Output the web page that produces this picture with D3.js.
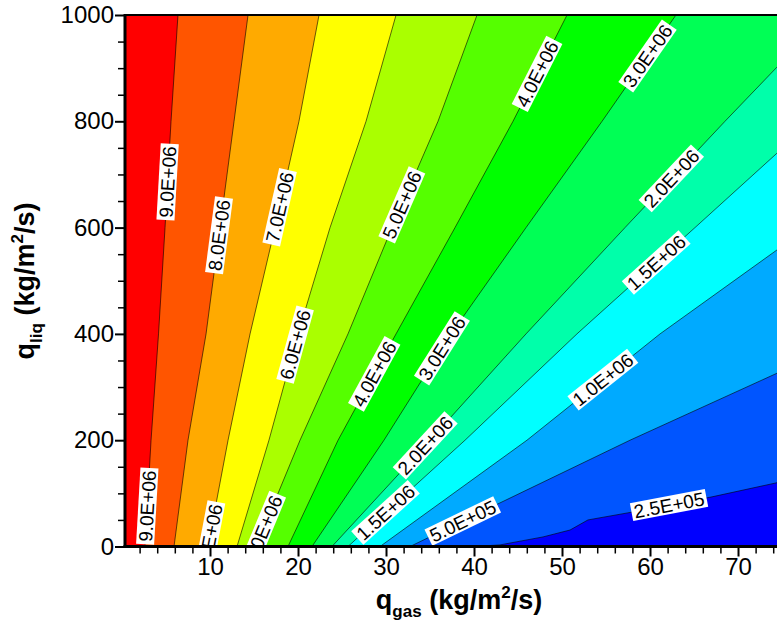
<!DOCTYPE html>
<html>
<head>
<meta charset="utf-8">
<script src="https://cdn.jsdelivr.net/npm/d3@7"></script>
<style>
  body { margin: 0; background: #fff; }
  svg { display: block; }
  text { font-family: "Liberation Sans", Arial, Helvetica, sans-serif; }
</style>
</head>
<body>
<svg id="chart" width="777" height="624"></svg>
<script>
// Contour levels of the field, highest first
const levels = [9.0e6, 8.0e6, 7.0e6, 6.0e6, 5.0e6, 4.0e6, 3.0e6, 2.0e6, 1.5e6, 1.0e6, 5.0e5, 2.5e5];

// Fill colours: band above the top level first, band below the lowest level last
const bandColors = ["#ff0000", "#ff5500", "#ffaa00", "#ffff00", "#aaff00", "#55ff00", "#00ff00",
                    "#00ff55", "#00ffaa", "#00ffff", "#00aaff", "#0055ff", "#0000ff"];

// Iso-lines as [q_gas, q_liq] points, from the bottom edge upwards
const iso9e6  = [[2.61, 0], [3.30, 200], [4.15, 400], [4.89, 600], [5.57, 800], [6.36, 1000]];
const iso8e6  = [[5.91, 0], [7.50, 200], [9.55, 400], [11.14, 600], [12.73, 800], [14.32, 1000]];
const iso7e6  = [[9.77, 0], [12.05, 200], [14.55, 400], [17.39, 600], [20.11, 800], [22.39, 1000]];
const iso6e6  = [[13.07, 0], [16.70, 200], [20.00, 400], [23.64, 600], [27.73, 800], [31.14, 1000]];
const iso5e6  = [[15.23, 0], [20.23, 200], [25.68, 400], [30.68, 600], [35.91, 800], [40.34, 1000]];
const iso4e6  = [[18.86, 0], [24.55, 200], [31.14, 400], [37.84, 600], [44.43, 800], [50.57, 1000]];
const iso3e6  = [[21.59, 0], [29.77, 200], [37.39, 400], [45.91, 600], [54.55, 800], [62.95, 1000]];
const iso2e6  = [[23.86, 0], [35.00, 200], [45.91, 400], [57.16, 600], [68.52, 800], [74.43, 902]];
const iso15e5 = [[25.68, 0], [38.98, 200], [51.70, 400], [65.11, 600], [74.43, 740]];
const iso1e6  = [[29.32, 0], [46.02, 200], [61.14, 400], [74.43, 558]];
const iso5e5  = [[32.73, 0], [42.95, 82], [57.73, 200], [74.43, 326]];
const iso25e4 = [[40.10, 0], [42.95, 3], [47.84, 18], [50.91, 31], [52.95, 50], [58.07, 65], [66.93, 93], [74.43, 120]];
const isoLines = [iso9e6, iso8e6, iso7e6, iso6e6, iso5e6, iso4e6, iso3e6, iso2e6, iso15e5, iso1e6, iso5e5, iso25e4];

// Inline contour labels: level, and approximate anchor [q_gas, q_liq]
const labelLevels = [9.0e6, 9.0e6, 8.0e6, 7.0e6, 7.0e6, 6.0e6, 5.0e6, 5.0e6, 4.0e6, 4.0e6,
                     3.0e6, 3.0e6, 2.0e6, 2.0e6, 1.5e6, 1.5e6, 1.0e6, 5.0e5, 2.5e5];
const labelAnchors = [[5.11, 686], [2.84, 76], [10.8, 586], [17.7, 639], [9.77, 14], [19.43, 381],
                      [31.36, 646], [16.2, 31], [46.93, 891], [28.52, 326], [59.55, 925], [36.25, 374],
                      [62.27, 695], [34.66, 187], [60.45, 539], [30.34, 57], [54.5, 317], [38.9, 42], [62.16, 78]];

// Axis ticks
const xMajorTicks = [10, 20, 30, 40, 50, 60, 70];
const xMinorTicks = [2, 4, 6, 8, 12, 14, 16, 18, 22, 24, 26, 28, 32, 34, 36, 38, 42, 44, 46, 48,
                     52, 54, 56, 58, 62, 64, 66, 68, 72, 74];
const yMajorTicks = [0, 200, 400, 600, 800, 1000];
const yMinorTicks = [50, 100, 150, 250, 300, 350, 450, 500, 550, 650, 700, 750, 850, 900, 950];

const svg = d3.select("#chart");
const plotLeft = 125, plotTop = 15, plotBottom = 546.5;
const xMin = 0.34, xMax = 75;
const x = d3.scaleLinear().domain([xMin, xMax]).range([plotLeft, plotLeft + (xMax - xMin) * 8.8]);
const y = d3.scaleLinear().domain([0, 1000]).range([plotBottom, plotTop]);

svg.append("rect").attr("width", 777).attr("height", 624).attr("fill", "#fff");

svg.append("clipPath").attr("id", "plotClip")
  .append("rect")
  .attr("x", plotLeft).attr("y", plotTop)
  .attr("width", x(xMax) - plotLeft).attr("height", plotBottom - plotTop);

const plot = svg.append("g").attr("clip-path", "url(#plotClip)");
const path = d3.line().x(d => x(d[0])).y(d => y(d[1]));

// Filled bands: paint the top band, then each lower band on the side below its iso-line
plot.append("rect")
  .attr("x", plotLeft).attr("y", plotTop)
  .attr("width", x(xMax) - plotLeft).attr("height", plotBottom - plotTop)
  .attr("fill", bandColors[0]);

isoLines.forEach((pts, i) => {
  const last = pts[pts.length - 1];
  const ring = pts.slice();
  ring.push([xMax + 5, last[1]]);
  if (last[1] >= 1000) ring.push([xMax + 5, 1000]);
  ring.push([xMax + 5, 0]);
  plot.append("path")
    .attr("d", path(ring) + "Z")
    .attr("fill", bandColors[i + 1]);
});

// Iso-lines
isoLines.forEach(pts => {
  plot.append("path")
    .attr("d", path(pts))
    .attr("fill", "none")
    .attr("stroke", "#000")
    .attr("stroke-width", 0.7)
    .attr("stroke-opacity", 0.85);
});

// Label text in Tecplot style, e.g. 9.0E+06
function fmtLevel(v) {
  const e = Math.floor(Math.log10(v));
  const m = v / Math.pow(10, e);
  const sign = e < 0 ? "-" : "+";
  return m.toFixed(1) + "E" + sign + String(Math.abs(e)).padStart(2, "0");
}

// Snap a pixel point onto the nearest segment of a polyline and return position + angle
function snap(pts, px, py) {
  let best = null;
  for (let k = 0; k < pts.length - 1; k++) {
    const ax = x(pts[k][0]), ay = y(pts[k][1]);
    const bx = x(pts[k + 1][0]), by = y(pts[k + 1][1]);
    const dx = bx - ax, dy = by - ay;
    let t = ((px - ax) * dx + (py - ay) * dy) / (dx * dx + dy * dy);
    t = Math.max(0, Math.min(1, t));
    const cx = ax + t * dx, cy = ay + t * dy;
    const d2 = (cx - px) ** 2 + (cy - py) ** 2;
    if (!best || d2 < best.d2) {
      let ang = Math.atan2(dy, dx) * 180 / Math.PI;
      if (ang > 90) ang -= 180;
      if (ang <= -90) ang += 180;
      best = { d2, cx, cy, ang };
    }
  }
  return best;
}

const labelFont = 19;
labelLevels.forEach((lv, i) => {
  const pts = isoLines[levels.indexOf(lv)];
  const s = snap(pts, x(labelAnchors[i][0]), y(labelAnchors[i][1]));
  const g = plot.append("g").attr("transform", `translate(${s.cx},${s.cy}) rotate(${s.ang})`);
  const r = g.append("rect").attr("fill", "#fff");
  const t = g.append("text")
    .attr("text-anchor", "middle")
    .attr("dy", "0.36em")
    .attr("font-size", labelFont)
    .attr("fill", "#000")
    .text(fmtLevel(lv));
  const w = t.node().getComputedTextLength() + 5;
  const h = labelFont * 0.95;
  r.attr("x", -w / 2).attr("y", -h / 2).attr("width", w).attr("height", h);
});

// Axes
const tickFont = 24;
const xAxisMajor = svg.append("g").attr("transform", `translate(0,${plotBottom})`)
  .call(d3.axisBottom(x).tickValues(xMajorTicks).tickSize(10).tickSizeOuter(0).tickPadding(1).tickFormat(d3.format("d")));
const xAxisMinor = svg.append("g").attr("transform", `translate(0,${plotBottom})`)
  .call(d3.axisBottom(x).tickValues(xMinorTicks).tickSize(7).tickSizeOuter(0).tickFormat(""));
const yAxisMajor = svg.append("g").attr("transform", `translate(${plotLeft},0)`)
  .call(d3.axisLeft(y).tickValues(yMajorTicks).tickSize(10).tickSizeOuter(0).tickPadding(1).tickFormat(d3.format("d")));
const yAxisMinor = svg.append("g").attr("transform", `translate(${plotLeft},0)`)
  .call(d3.axisLeft(y).tickValues(yMinorTicks).tickSize(7).tickSizeOuter(0).tickFormat(""));

[xAxisMajor, xAxisMinor, yAxisMajor, yAxisMinor].forEach(a => {
  a.select(".domain").remove();
  a.selectAll("text").attr("font-size", tickFont).attr("fill", "#000")
    .style("font-family", '"Liberation Sans", Arial, sans-serif');
});
[xAxisMajor, yAxisMajor].forEach(a => a.selectAll("line").attr("stroke", "#000").attr("stroke-width", 2));
[xAxisMinor, yAxisMinor].forEach(a => a.selectAll("line").attr("stroke", "#000").attr("stroke-width", 1.5));

// Frame
svg.append("line").attr("x1", plotLeft).attr("x2", plotLeft).attr("y1", plotTop - 1).attr("y2", plotBottom + 1.5)
  .attr("stroke", "#000").attr("stroke-width", 3);
svg.append("line").attr("x1", plotLeft - 1.5).attr("x2", 777).attr("y1", plotBottom).attr("y2", plotBottom)
  .attr("stroke", "#000").attr("stroke-width", 3);
svg.append("line").attr("x1", plotLeft).attr("x2", 777).attr("y1", plotTop).attr("y2", plotTop)
  .attr("stroke", "#000").attr("stroke-width", 2);

// Axis titles
const xt = svg.append("text")
  .attr("x", 459).attr("y", 609)
  .attr("text-anchor", "middle")
  .attr("font-weight", "bold").attr("font-size", 27);
xt.append("tspan").text("q");
xt.append("tspan").attr("font-size", 17).attr("dy", 8).text("gas");
xt.append("tspan").attr("dy", -8).text(" (kg/m");
xt.append("tspan").attr("font-size", 17).attr("dy", -11).text("2");
xt.append("tspan").attr("dy", 11).text("/s)");

const yt = svg.append("text")
  .attr("transform", "translate(34,281) rotate(-90)")
  .attr("text-anchor", "middle")
  .attr("font-weight", "bold").attr("font-size", 27);
yt.append("tspan").text("q");
yt.append("tspan").attr("font-size", 17).attr("dy", 8).text("liq");
yt.append("tspan").attr("dy", -8).text(" (kg/m");
yt.append("tspan").attr("font-size", 17).attr("dy", -11).text("2");
yt.append("tspan").attr("dy", 11).text("/s)");
</script>
</body>
</html>
